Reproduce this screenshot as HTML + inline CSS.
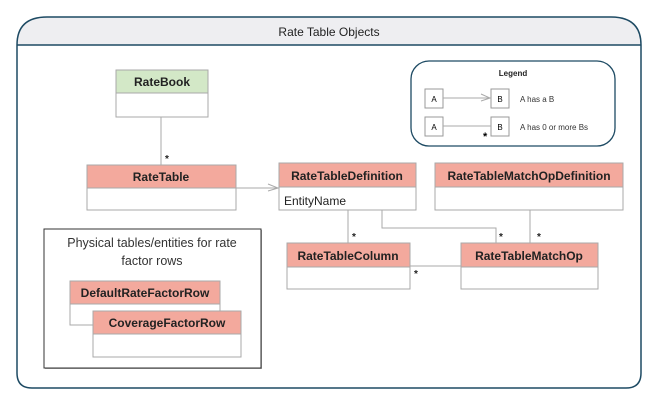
<!DOCTYPE html>
<html><head><style>
body{margin:0;background:#fff;}
svg{display:block;font-family:"Liberation Sans",sans-serif;}
</style></head><body>
<svg width="657" height="406" viewBox="0 0 657 406" xmlns="http://www.w3.org/2000/svg">
<path d="M17,45 Q17,17 47,17 L611,17 Q641,17 641,45 Z" fill="#eeeef1"/>
<path d="M17,45 Q17,17 47,17 L611,17 Q641,17 641,45 L641,373 Q641,388 626,388 L32,388 Q17,388 17,373 Z" fill="none" stroke="#1d4a63" stroke-width="1.5"/>
<line x1="17" y1="45" x2="641" y2="45" stroke="#1d4a63" stroke-width="1.5"/>
<text x="329" y="36" font-size="12" text-anchor="middle" fill="#222">Rate Table Objects</text>

<rect x="411" y="61" width="204" height="85" rx="18" fill="#fff" stroke="#1d4a63" stroke-width="1.3"/>
<text x="513" y="76" font-size="8" font-weight="bold" text-anchor="middle" fill="#222">Legend</text>
<rect x="425" y="89" width="18" height="19" fill="#fff" stroke="#999"/>
<text x="434" y="102" font-size="8" text-anchor="middle">A</text>
<rect x="491" y="89" width="18" height="19" fill="#fff" stroke="#999"/>
<text x="500" y="102" font-size="8" text-anchor="middle">B</text>
<line x1="443" y1="98" x2="491" y2="98" stroke="#aaa"/>
<path d="M481,94 L490,98 L481,101" fill="none" stroke="#aaa"/>
<text x="520" y="102" font-size="8" fill="#333">A has a B</text>
<rect x="425" y="117" width="18" height="19" fill="#fff" stroke="#999"/>
<text x="434" y="130" font-size="8" text-anchor="middle">A</text>
<rect x="491" y="117" width="18" height="19" fill="#fff" stroke="#999"/>
<text x="500" y="130" font-size="8" text-anchor="middle">B</text>
<line x1="443" y1="126" x2="491" y2="126" stroke="#aaa"/>
<text x="483" y="140" font-size="11" font-weight="bold">*</text>
<text x="520" y="130" font-size="8" fill="#333">A has 0 or more Bs</text>

<g stroke="#aaa" fill="none">
<line x1="161" y1="117" x2="161" y2="165"/>
<line x1="236" y1="188" x2="279" y2="188"/>
<path d="M268,184 L278,188 L268,191"/>
<line x1="348" y1="210" x2="348" y2="243"/>
<path d="M382,210 L382,228 L496,228 L496,243"/>
<line x1="530" y1="210" x2="530" y2="243"/>
<line x1="410" y1="266" x2="461" y2="266"/>
</g>
<g font-size="10" font-weight="bold" fill="#222">
<text x="165" y="162">*</text>
<text x="352" y="240">*</text>
<text x="499" y="240">*</text>
<text x="537" y="240">*</text>
<text x="414" y="277">*</text>
</g>

<g stroke="#a9a9a9" font-size="12" font-weight="bold" fill="#222">
<rect x="116" y="70" width="92" height="47" fill="#fff"/>
<rect x="116" y="70" width="92" height="23" fill="#d3e8c7"/>
<text x="162" y="86" text-anchor="middle" stroke="none">RateBook</text>

<rect x="87" y="165" width="149" height="45" fill="#fff"/>
<rect x="87" y="165" width="149" height="23" fill="#f3a99d"/>
<text x="161" y="181" text-anchor="middle" stroke="none">RateTable</text>

<rect x="279" y="163" width="137" height="47" fill="#fff"/>
<rect x="279" y="163" width="137" height="24" fill="#f3a99d"/>
<text x="347" y="180" text-anchor="middle" stroke="none">RateTableDefinition</text>
<text x="284" y="205" stroke="none" font-weight="normal">EntityName</text>

<rect x="435" y="163" width="188" height="47" fill="#fff"/>
<rect x="435" y="163" width="188" height="24" fill="#f3a99d"/>
<text x="529" y="180" text-anchor="middle" stroke="none">RateTableMatchOpDefinition</text>

<rect x="287" y="243" width="123" height="46" fill="#fff"/>
<rect x="287" y="243" width="123" height="24" fill="#f3a99d"/>
<text x="348" y="260" text-anchor="middle" stroke="none">RateTableColumn</text>

<rect x="461" y="243" width="137" height="46" fill="#fff"/>
<rect x="461" y="243" width="137" height="24" fill="#f3a99d"/>
<text x="529" y="260" text-anchor="middle" stroke="none">RateTableMatchOp</text>
</g>

<rect x="45" y="230" width="217" height="139" fill="#aaa"/>
<rect x="44" y="229" width="217" height="139" fill="#fff" stroke="#333"/>
<text x="152" y="247" font-size="12.5" text-anchor="middle" fill="#333">Physical tables/entities for rate</text>
<text x="152" y="265" font-size="12.5" text-anchor="middle" fill="#333">factor rows</text>
<g stroke="#a9a9a9" font-size="12" font-weight="bold" fill="#222">
<path d="M70,281 L220,281 L220,311 M70,281 L70,325 L93,325" fill="#fff"/>
<rect x="70" y="281" width="150" height="23" fill="#f3a99d"/>
<text x="145" y="297" text-anchor="middle" stroke="none">DefaultRateFactorRow</text>
<rect x="93" y="311" width="148" height="46" fill="#fff"/>
<rect x="93" y="311" width="148" height="23" fill="#f3a99d"/>
<text x="167" y="327" text-anchor="middle" stroke="none">CoverageFactorRow</text>
</g>
</svg>
</body></html>
